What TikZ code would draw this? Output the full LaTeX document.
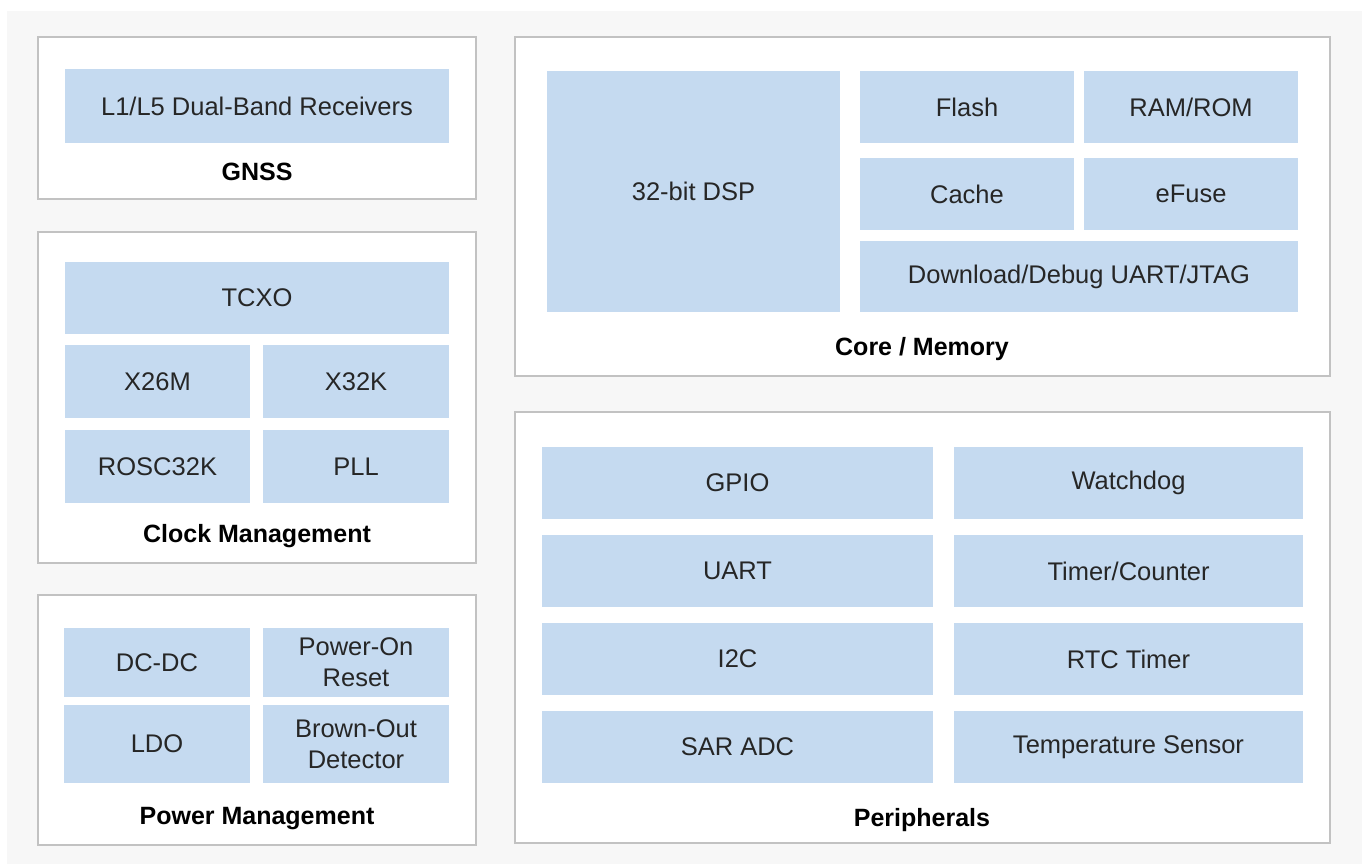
\documentclass[tikz,border=0pt]{standalone}
\usepackage{fontspec}
\setmainfont{Liberation Sans}
\definecolor{bgc}{HTML}{F7F7F7}
\definecolor{blkc}{HTML}{C5DAF0}
\definecolor{framec}{HTML}{C2C2C2}
\definecolor{txtc}{HTML}{262626}
\tikzset{
  outerbox/.style={draw=framec, line width=1.6pt, fill=white, anchor=north west, inner sep=0pt, outer sep=0pt},
  blk/.style={fill=blkc, draw=none, anchor=north west, inner sep=0pt, outer sep=0pt, text=txtc, font=\fontsize{25.5}{31}\selectfont, align=center},
  ttl/.style={text=black, font=\bfseries\fontsize{25}{30}\selectfont, inner sep=0pt},
}
\begin{document}
\begin{tikzpicture}[x=1pt,y=-1pt]
\useasboundingbox (0,0) rectangle (1367,864);
\fill[bgc] (7,11) rectangle (1362,864);
% GNSS
\node (gnss) [outerbox, minimum width=438, minimum height=162] at (38,37) {};
\node (l1l5) [blk, minimum width=384, minimum height=74] at (65,69) {L1/L5 Dual-Band Receivers};
\node (gnsst) [ttl] at (257,172) {GNSS};
% Clock
\node (clk) [outerbox, minimum width=438, minimum height=331] at (38,232) {};
\node (tcxo) [blk, minimum width=384, minimum height=72] at (65,262) {TCXO};
\node (x26) [blk, minimum width=185, minimum height=73] at (65,345) {X26M};
\node (x32) [blk, minimum width=186, minimum height=73] at (263,345) {X32K};
\node (rosc) [blk, minimum width=185, minimum height=73] at (65,430) {ROSC32K};
\node (pll) [blk, minimum width=186, minimum height=73] at (263,430) {PLL};
\node (clkt) [ttl] at (257,536) {Clock Management};
% Power
\node (pwr) [outerbox, minimum width=438, minimum height=250] at (38,595) {};
\node (dcdc) [blk, minimum width=186, minimum height=69] at (64,628) {DC-DC};
\node (por) [blk, minimum width=186, minimum height=69] at (263,628) {Power-On\\Reset};
\node (ldo) [blk, minimum width=186, minimum height=78] at (64,705) {LDO};
\node (bod) [blk, minimum width=186, minimum height=78] at (263,705) {Brown-Out\\Detector};
\node (pwrt) [ttl] at (257,819) {Power Management};
% Core / Memory
\node (core) [outerbox, minimum width=815, minimum height=339] at (515,37) {};
\node (dsp) [blk, minimum width=293, minimum height=241] at (547,71) {32-bit DSP};
\node (flash) [blk, minimum width=214, minimum height=72] at (860,71) {Flash};
\node (ram) [blk, minimum width=214, minimum height=72] at (1084,71) {RAM/ROM};
\node (cache) [blk, minimum width=214, minimum height=72] at (860,158) {Cache};
\node (efuse) [blk, minimum width=214, minimum height=72] at (1084,158) {eFuse};
\node (dbg) [blk, minimum width=438, minimum height=71] at (860,241) {Download/Debug UART/JTAG};
\node (coret) [ttl] at (922,349) {Core / Memory};
% Peripherals
\node (per) [outerbox, minimum width=815, minimum height=431] at (515,412) {};
\node (gpio) [blk, minimum width=391, minimum height=72] at (542,447) {GPIO};
\node (wdt) [blk, minimum width=349, minimum height=72] at (954,447) {Watchdog};
\node (uart) [blk, minimum width=391, minimum height=72] at (542,535) {UART};
\node (tmr) [blk, minimum width=349, minimum height=72] at (954,535) {Timer/Counter};
\node (i2c) [blk, minimum width=391, minimum height=72] at (542,623) {I2C};
\node (rtc) [blk, minimum width=349, minimum height=72] at (954,623) {RTC Timer};
\node (sar) [blk, minimum width=391, minimum height=72] at (542,711) {SAR ADC};
\node (temp) [blk, minimum width=349, minimum height=72] at (954,711) {Temperature Sensor};
\node (pert) [ttl] at (922,820) {Peripherals};
\end{tikzpicture}
\end{document}
